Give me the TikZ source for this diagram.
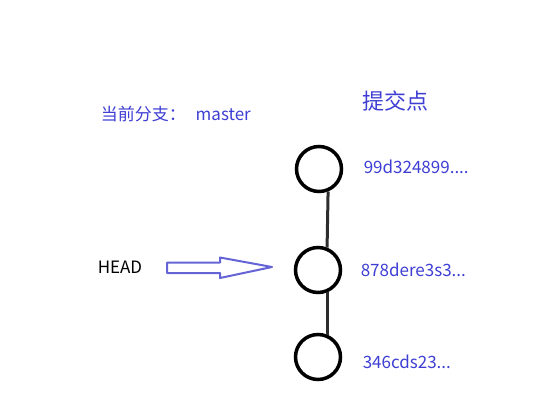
\documentclass[tikz,border=0pt]{standalone}
\usepackage{xcolor}
\usepackage{fontspec}
\setmainfont{Noto Sans CJK SC}
\usepackage{tikz}
\usetikzlibrary{positioning}

\definecolor{hashblue}{RGB}{62,62,212}
\definecolor{arrowblue}{RGB}{100,100,215}
\definecolor{linkgray}{RGB}{45,45,45}

\begin{document}
\begin{tikzpicture}[x=1pt,y=-1pt,line width=3.5pt,
  commit/.style={circle,draw=black,minimum size=45pt,inner sep=0pt},
  hash/.style={text=hashblue,inner sep=0pt,anchor=west,font=\fontsize{17}{20}\selectfont},
  link/.style={draw=linkgray,line width=3pt}]
\useasboundingbox (0,0) rectangle (559,414);

\node[commit] (c1) at (319,169) {};
\node[commit] (c2) at (318,270) {};
\node[commit] (c3) at (318,357) {};

\draw[link] (c1.-68) -- (c2.68);
\draw[link] (c2.-66) -- (c3.66);

\node[hash] (h1) at (362,167) {99d324899....};
\node[hash] (h2) at (359,270) {878dere3s3...};
\node[hash] (h3) at (361,362) {346cds23...};

\node[text=hashblue,inner sep=0pt,font=\fontsize{22}{25}\selectfont] (title) at (395,101) {提交点};
\node[hash] (branch) at (99,114) {当前分支：\hspace{10pt}master};
\node[hash,text=black] (head) at (96,267) {HEAD};

\coordinate (tail) at (167,267.5);
\coordinate (tip) at (272,267);
\draw[arrowblue,line width=2pt,line join=round]
  (tail) ++(0,-5) -- ++(53,0) -- ++(0,-5) -- (tip)
  -- ++(-52,11) -- ++(0,-5) -- ++(-53,0) -- cycle;
\end{tikzpicture}
\end{document}
